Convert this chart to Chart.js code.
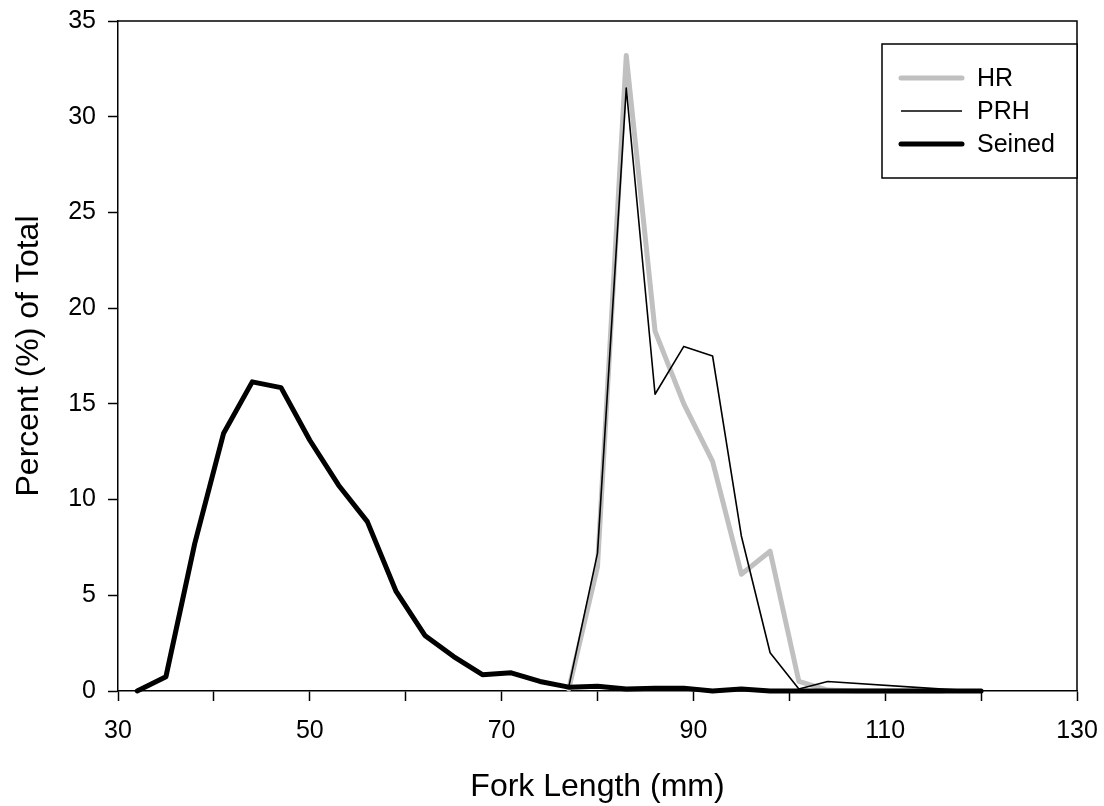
<!DOCTYPE html>
<html>
<head>
<meta charset="utf-8">
<title>Fork Length distribution</title>
<script src="https://cdn.jsdelivr.net/npm/chart.js@4/dist/chart.umd.min.js"></script>
<style>
  html, body { margin: 0; padding: 0; background: #fff; }
  #chart { display: block; }
</style>
</head>
<body>
<canvas id="chart" width="1104" height="806"></canvas>
<script>
// Fork length (mm) vs percent of total
const seinedLength = [32, 35, 38, 41, 44, 47, 50, 53, 56, 59, 62, 65, 68, 71, 74, 77, 80, 83, 86, 89, 92, 95, 98, 101, 104, 107, 110, 113, 116, 120];
const seinedPct = [0, 0.75, 7.7, 13.45, 16.15, 15.85, 13.1, 10.75, 8.85, 5.2, 2.9, 1.8, 0.85, 0.95, 0.5, 0.2, 0.25, 0.1, 0.15, 0.15, 0, 0.1, 0, 0, 0, 0, 0, 0, 0, 0];

const hrLength = [77, 80, 83, 86, 89, 92, 95, 98, 101, 104, 107, 110, 113, 116];
const hrPct = [0.1, 6.5, 33.2, 18.8, 15.0, 12.0, 6.1, 7.3, 0.5, 0.05, 0, 0, 0, 0];

const prhLength = [77, 80, 83, 86, 89, 92, 95, 98, 101, 104, 116, 120];
const prhPct = [0.2, 7.2, 31.5, 15.5, 18.0, 17.5, 8.1, 2.0, 0.1, 0.5, 0.1, 0];

const xTicks = [30, 50, 70, 90, 110, 130];

const FONT = 'Liberation Sans, Arial, sans-serif';

function pairs(xs, ys) {
  return xs.map((x, i) => ({ x: x, y: ys[i] }));
}

// frame: top and right edges of the plot box
const frame = {
  id: 'frame',
  afterDatasetsDraw(chart) {
    const { ctx, chartArea: a } = chart;
    ctx.save();
    ctx.strokeStyle = '#000';
    ctx.lineWidth = 1.5;
    ctx.beginPath();
    ctx.moveTo(a.left, a.top);
    ctx.lineTo(a.right, a.top);
    ctx.lineTo(a.right, a.bottom);
    ctx.stroke();
    ctx.restore();
  }
};

// boxed legend in the upper right corner
const boxLegend = {
  id: 'boxLegend',
  afterDraw(chart) {
    const { ctx, chartArea: a } = chart;
    const x0 = 882, y0 = 44, x1 = a.right, y1 = 178;
    ctx.save();
    ctx.fillStyle = '#fff';
    ctx.fillRect(x0, y0, x1 - x0, y1 - y0);
    ctx.strokeStyle = '#000';
    ctx.lineWidth = 1.5;
    ctx.strokeRect(x0, y0, x1 - x0, y1 - y0);
    ctx.font = '25px ' + FONT;
    ctx.textBaseline = 'middle';
    ctx.textAlign = 'left';
    const rows = [78, 111, 144];
    chart.data.datasets.forEach((ds, i) => {
      const y = rows[i];
      ctx.strokeStyle = ds.borderColor;
      ctx.lineWidth = ds.borderWidth;
      ctx.lineCap = ds.borderWidth > 3 ? 'round' : 'butt';
      ctx.beginPath();
      ctx.moveTo(901, y);
      ctx.lineTo(962, y);
      ctx.stroke();
      ctx.fillStyle = '#000';
      ctx.fillText(ds.label, 977, y + 1);
    });
    ctx.restore();
  }
};

new Chart(document.getElementById('chart'), {
  type: 'line',
  data: {
    datasets: [
      {
        label: 'HR',
        data: pairs(hrLength, hrPct),
        borderColor: '#c0c0c0',
        borderWidth: 5,
        order: 2
      },
      {
        label: 'PRH',
        data: pairs(prhLength, prhPct),
        borderColor: '#000',
        borderWidth: 1.6,
        order: 1
      },
      {
        label: 'Seined',
        data: pairs(seinedLength, seinedPct),
        borderColor: '#000',
        borderWidth: 5,
        order: 0
      }
    ]
  },
  options: {
    responsive: false,
    animation: false,
    clip: false,
    elements: {
      point: { radius: 0 },
      line: { tension: 0, borderJoinStyle: 'round', borderCapStyle: 'round', fill: false }
    },
    layout: { padding: { top: 21, right: 27, left: 0, bottom: 0 } },
    plugins: {
      legend: { display: false },
      tooltip: { enabled: false }
    },
    scales: {
      x: {
        type: 'linear',
        min: 30,
        max: 130,
        afterFit: (s) => {
          s.height = 115;
          s.paddingLeft = 0;
          s.paddingRight = 0;
        },
        afterBuildTicks: (s) => {
          s.ticks = [];
          for (let v = 30; v <= 130; v += 10) s.ticks.push({ value: v });
        },
        ticks: {
          autoSkip: false,
          maxRotation: 0,
          padding: 15,
          color: '#000',
          font: { family: FONT, size: 25 },
          callback: (v) => (xTicks.includes(v) ? String(v) : '')
        },
        grid: { drawOnChartArea: false, drawTicks: true, tickLength: 10, tickColor: '#000', tickWidth: 1.5 },
        border: { display: true, color: '#000', width: 1.5 },
        title: {
          display: true,
          text: 'Fork Length (mm)',
          color: '#000',
          font: { family: FONT, size: 32 },
          padding: { top: 0, bottom: 0 }
        }
      },
      y: {
        min: 0,
        max: 35,
        afterFit: (s) => {
          s.width = 118;
          s.paddingTop = 0;
          s.paddingBottom = 0;
        },
        ticks: {
          stepSize: 5,
          padding: 12,
          color: '#000',
          font: { family: FONT, size: 25 }
        },
        grid: { drawOnChartArea: false, drawTicks: true, tickLength: 10, tickColor: '#000', tickWidth: 1.5 },
        border: { display: true, color: '#000', width: 1.5 },
        title: {
          display: true,
          text: 'Percent (%) of Total',
          color: '#000',
          font: { family: FONT, size: 32 },
          padding: { top: 10, bottom: 0 }
        }
      }
    }
  },
  plugins: [frame, boxLegend]
});
</script>
</body>
</html>
